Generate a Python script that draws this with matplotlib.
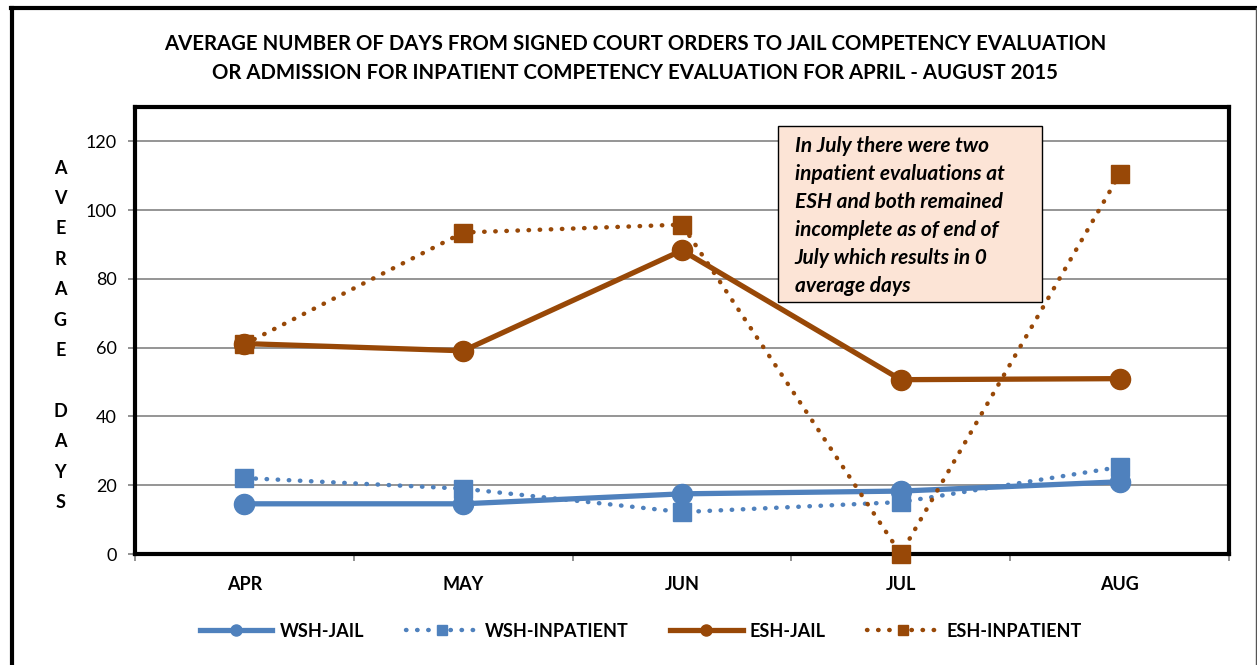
import matplotlib.pyplot as plt
from matplotlib.patches import Rectangle

plt.rcParams['font.family'] = ['Lato', 'DejaVu Sans']

months = ['APR', 'MAY', 'JUN', 'JUL', 'AUG']
wsh_jail = [14.6, 14.6, 17.5, 18.3, 21.0]
wsh_inpatient = [22.1, 19.0, 12.2, 15.1, 25.3]
esh_jail = [61.2, 59.1, 88.3, 50.7, 51.0]
esh_inpatient = [61.0, 93.5, 95.8, 0.0, 110.4]

title = ('AVERAGE NUMBER OF DAYS FROM SIGNED COURT ORDERS TO JAIL COMPETENCY EVALUATION\n'
         'OR ADMISSION FOR INPATIENT COMPETENCY EVALUATION FOR APRIL - AUGUST 2015')
note = ('In July there were two\ninpatient evaluations at\nESH and both remained\n'
        'incomplete as of end of\nJuly which results in 0\naverage days')
ylabel = 'AVERAGE DAYS'

blue = '#4F81BD'
brown = '#984807'

fig = plt.figure(figsize=(12.57, 6.65), dpi=100)
ax = fig.add_axes([0.1074, 0.1669, 0.8703, 0.6722])

x = range(len(months))
dot = (0, (0.1, 2.4))
ax.plot(x, wsh_jail, color=blue, lw=3.8, marker='o', ms=14.5, label='WSH-JAIL',
        clip_on=False)
ax.plot(x, wsh_inpatient, color=blue, lw=3.2, ls=dot, dash_capstyle='round',
        marker='s', ms=13.5, label='WSH-INPATIENT', clip_on=False)
ax.plot(x, esh_jail, color=brown, lw=3.8, marker='o', ms=14.5, label='ESH-JAIL',
        clip_on=False)
ax.plot(x, esh_inpatient, color=brown, lw=3.2, ls=dot, dash_capstyle='round',
        marker='s', ms=13.5, label='ESH-INPATIENT', clip_on=False, zorder=4)

ax.set_xlim(-0.5, 4.5)
ax.set_ylim(0, 130)
ax.set_yticks(range(0, 121, 20))
ax.set_xticks(list(x))
ax.set_xticklabels(months, fontweight='bold', fontsize=13)
ax.set_xticks([i - 0.5 for i in range(6)], minor=True)
ax.tick_params(axis='x', which='major', length=0, pad=16)
ax.tick_params(axis='x', which='minor', length=5, color='#808080', width=1.2)
ax.tick_params(axis='y', length=5, color='#808080', width=1.2, labelsize=13, pad=8)
ax.grid(axis='y', color='#8c8c8c', lw=1.3)
ax.set_axisbelow(True)
for s in ax.spines.values():
    s.set_linewidth(3)
    s.set_color('black')

# annotation box
ax.add_patch(Rectangle((0.588, 0.564), 0.241, 0.393, transform=ax.transAxes,
                       facecolor='#FCE4D6', edgecolor='black', lw=1, zorder=5))
ax.text(0.603, 0.935, note, transform=ax.transAxes, fontsize=15,
        fontweight='bold', fontstyle='italic', va='top', ha='left',
        linespacing=1.5, zorder=6)

fig.text(0.505, 0.912, title, ha='center', va='center', fontsize=14.7,
         fontweight='bold', linespacing=1.6)

# stacked y label letters
ytop = 1 - 168 / 665
step = 30.4 / 665
for i, ch in enumerate(ylabel):
    if ch != ' ':
        fig.text(0.048, ytop - i * step, ch, ha='center', va='center',
                 fontsize=13, fontweight='bold')

fig.legend(loc='center', bbox_to_anchor=(0.51, 0.051), ncol=4, frameon=False,
           handlelength=4.0, handletextpad=0.4, markerscale=0.55,
           columnspacing=2.3, prop={'weight': 'bold', 'size': 13})

# outer frame: thick left and top, thin right
fig.add_artist(plt.Line2D([0.0095, 0.0095], [0, 0.988], color='black', lw=3,
                          transform=fig.transFigure))
fig.add_artist(plt.Line2D([0.0085, 0.999], [0.988, 0.988], color='black', lw=3,
                          transform=fig.transFigure))
fig.add_artist(plt.Line2D([0.999, 0.999], [0, 0.988], color='#555555', lw=1,
                          transform=fig.transFigure))

fig.savefig('out.png', dpi=100)
